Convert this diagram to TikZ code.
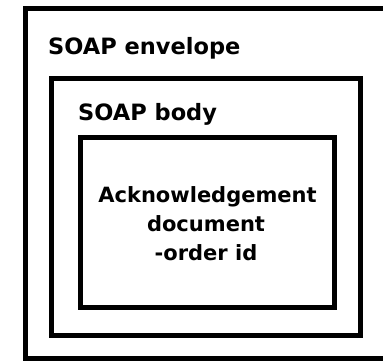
\documentclass[tikz,border=0pt]{standalone}
\usepackage{fontspec}
\setmainfont{DejaVu Sans}
\begin{document}
\begin{tikzpicture}[x=1pt,y=-1pt,
  box/.style={draw=black, line width=5pt, inner sep=0pt, outer sep=0pt},
  lbl/.style={font=\bfseries\fontsize{21}{25}\selectfont, inner sep=0pt},
  biglbl/.style={lbl, font=\bfseries\fontsize{22.5}{27}\selectfont}]
\useasboundingbox (0,0) rectangle (383,361);
\clip (0,0) rectangle (383,361);
% boxes
\node[box, line width=5.5pt, minimum width=369.5pt, minimum height=350.5pt] (env) at (210.25,183.75) {};
\node[box, minimum width=309pt, minimum height=256.5pt] (body) at (206,206.75) {};
\node[box, line width=4.6pt, minimum width=254pt, minimum height=170pt] (doc) at (207.5,222.5) {};
% labels
\node[biglbl, anchor=base west] (envlbl) at (48,55) {SOAP envelope};
\node[biglbl, anchor=base west] (bodylbl) at (78,120) {SOAP body};
\node[lbl, anchor=base] (doc1) at (207.5,202) {Acknowledgement};
\node[lbl, anchor=base] (doc2) at (206,231) {document};
\node[lbl, anchor=base] (doc3) at (206,260) {-order id};
\end{tikzpicture}
\end{document}
